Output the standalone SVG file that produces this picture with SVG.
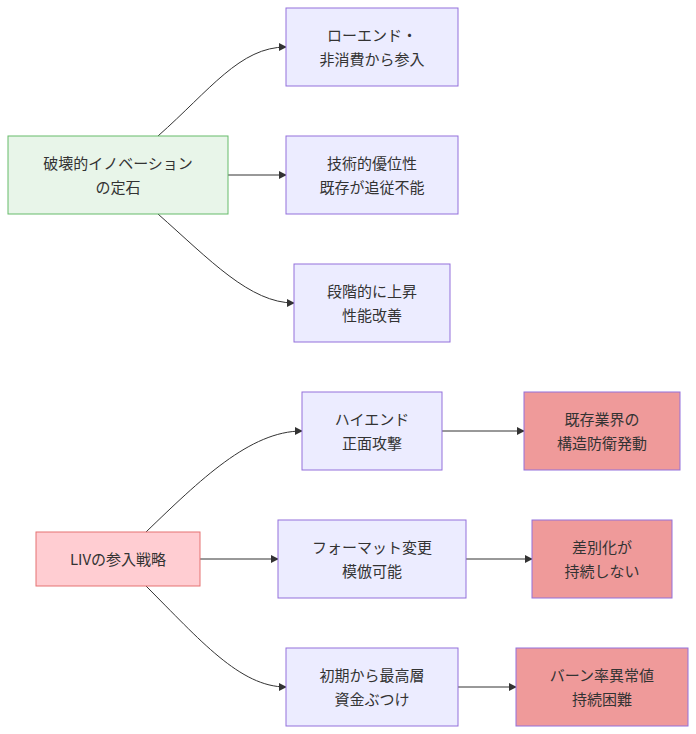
<svg xmlns="http://www.w3.org/2000/svg" width="696" height="734" viewBox="0 0 696 734">
<style>
text{font-family:"Noto Sans CJK JP","Noto Sans",sans-serif;font-size:15px;fill:#333;text-anchor:middle}
.n{fill:#ECECFF;stroke:#9370DB;stroke-width:1}
.g{fill:#e8f5e9;stroke:#66bb6a;stroke-width:1}
.p{fill:#ffcdd2;stroke:#e57373;stroke-width:1}
.r{fill:#ef9a9a;stroke:#9370DB;stroke-width:1}
.e{fill:none;stroke:#333;stroke-width:1;marker-end:url(#a)}
</style>
<defs><marker id="a" viewBox="0 0 10 10" refX="9" refY="5" markerWidth="8" markerHeight="8" orient="auto"><path d="M0,0L10,5L0,10z" fill="#333"/></marker></defs>
<g id="edges">
<path class="e" d="M158,136C210,90 240,47 286,47"/>
<path class="e" d="M228,175H286"/>
<path class="e" d="M158,214C210,260 250,303 294,303"/>
<path class="e" d="M146,532C200,480 250,431 302,431"/>
<path class="e" d="M200,559H278"/>
<path class="e" d="M146,586C200,640 240,687 286,687"/>
<path class="e" d="M442,431H524"/>
<path class="e" d="M466,559H532"/>
<path class="e" d="M458,687H516"/>
</g>
<g id="A"><rect class="g" x="8" y="136" width="220" height="78"/><text x="118" y="169">破壊的イノベーション</text><text x="118" y="193">の定石</text></g>
<g id="B1"><rect class="n" x="286" y="8" width="172" height="78"/><text x="372" y="41">ローエンド・</text><text x="372" y="65">非消費から参入</text></g>
<g id="B2"><rect class="n" x="286" y="136" width="172" height="78"/><text x="372" y="169">技術的優位性</text><text x="372" y="193">既存が追従不能</text></g>
<g id="B3"><rect class="n" x="294" y="264" width="156" height="78"/><text x="372" y="297">段階的に上昇</text><text x="372" y="321">性能改善</text></g>
<g id="C"><rect class="p" x="36" y="532" width="164" height="54"/><text x="118" y="565">LIVの参入戦略</text></g>
<g id="D1"><rect class="n" x="302" y="392" width="140" height="78"/><text x="372" y="425">ハイエンド</text><text x="372" y="449">正面攻撃</text></g>
<g id="D2"><rect class="n" x="278" y="520" width="188" height="78"/><text x="372" y="553">フォーマット変更</text><text x="372" y="577">模倣可能</text></g>
<g id="D3"><rect class="n" x="286" y="648" width="172" height="78"/><text x="372" y="681">初期から最高層</text><text x="372" y="705">資金ぶつけ</text></g>
<g id="E1"><rect class="r" x="524" y="392" width="156" height="78"/><text x="602" y="425">既存業界の</text><text x="602" y="449">構造防衛発動</text></g>
<g id="E2"><rect class="r" x="532" y="520" width="140" height="78"/><text x="602" y="553">差別化が</text><text x="602" y="577">持続しない</text></g>
<g id="E3"><rect class="r" x="516" y="648" width="172" height="78"/><text x="602" y="681">バーン率異常値</text><text x="602" y="705">持続困難</text></g>
</svg>
